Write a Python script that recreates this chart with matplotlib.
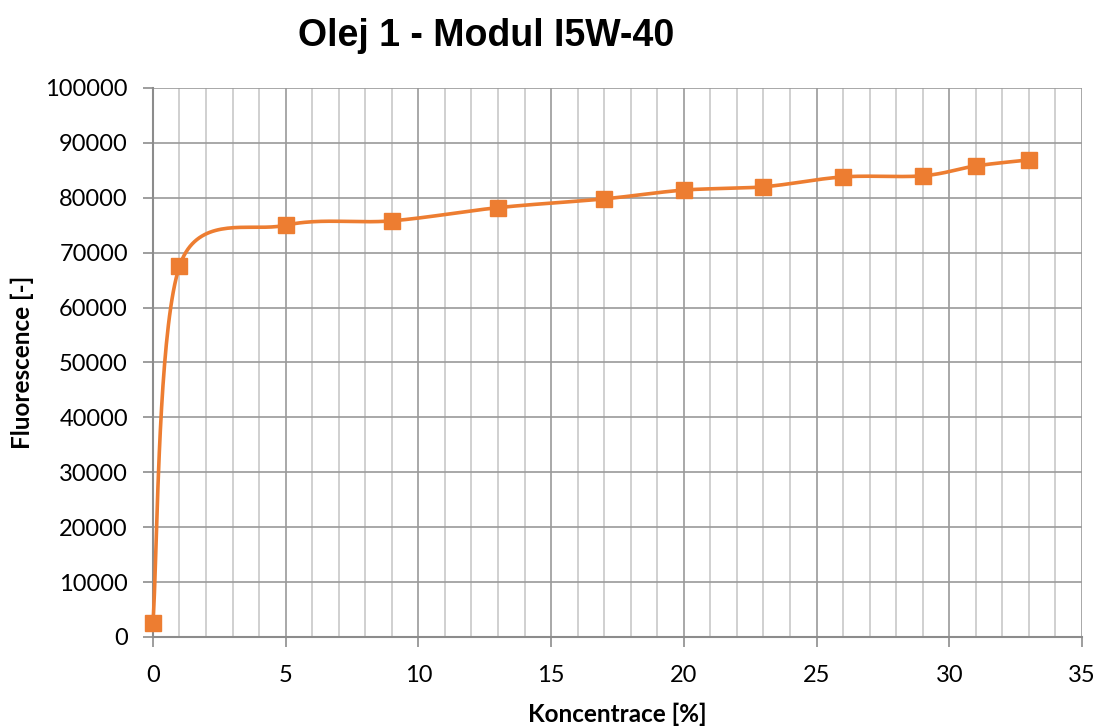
import numpy as np
import matplotlib
matplotlib.use("Agg")
import matplotlib.pyplot as plt
from matplotlib.ticker import MultipleLocator

# values
koncentrace = [0, 1, 5, 9, 13, 17, 20, 23, 26, 29, 31, 33]
fluorescence = [2500, 67500, 75000, 75800, 78200, 79800, 81400, 82000, 83800, 84000, 85800, 86900]

title = "Olej 1 - Modul I5W-40"
xlabel = "Koncentrace [%]"
ylabel = "Fluorescence [-]"
orange = "#ED7D31"


def excel_smooth(p, n=40):
    # Catmull-Rom bezier (arm = 1/6 of neighbour chord), arms capped at half the segment
    p = np.vstack([p[0], p, p[-1]])
    t = np.linspace(0, 1, n)[:, None]
    out = []
    for i in range(1, len(p) - 2):
        p0, p1, p2, p3 = p[i - 1], p[i], p[i + 1], p[i + 2]
        half = np.linalg.norm(p2 - p1) / 2
        a1 = (p2 - p0) / 6
        a2 = (p3 - p1) / 6
        if np.linalg.norm(a1) > half:
            a1 = a1 / np.linalg.norm(a1) * half
        if np.linalg.norm(a2) > half:
            a2 = a2 / np.linalg.norm(a2) * half
        c1 = p1 + a1
        c2 = p2 - a2
        seg = ((1 - t) ** 3) * p1 + 3 * ((1 - t) ** 2) * t * c1 + 3 * (1 - t) * t ** 2 * c2 + t ** 3 * p2
        out.append(seg)
    return np.vstack(out)


fig = plt.figure(figsize=(11, 7.27), dpi=100)
ax = fig.add_axes([0.139, 0.1238, 0.8446, 0.7552])

ax.set_xlim(0, 35)
ax.set_ylim(0, 100000)

# smooth in screen space, then back to data
pts = ax.transData.transform(np.column_stack([koncentrace, fluorescence]))
curve = ax.transData.inverted().transform(excel_smooth(pts))
ax.plot(curve[:, 0], curve[:, 1], color=orange, lw=2.6, zorder=3, clip_on=False)
ax.plot(koncentrace, fluorescence, ls="none", marker="s", ms=11, color=orange,
        zorder=4, clip_on=False)

ax.xaxis.set_major_locator(MultipleLocator(5))
ax.xaxis.set_minor_locator(MultipleLocator(1))
ax.yaxis.set_major_locator(MultipleLocator(10000))

ax.grid(which="major", axis="both", color="#9a9a9a", lw=1.2)
ax.grid(which="minor", axis="x", color="#c8c8c8", lw=1.2)
ax.set_axisbelow(True)

for s in ["top", "right"]:
    ax.spines[s].set_visible(False)
for s in ["left", "bottom"]:
    ax.spines[s].set_color("#8c8c8c")
    ax.spines[s].set_linewidth(1.5)

ax.tick_params(which="major", direction="out", length=7, width=1.2, color="#8c8c8c",
               labelsize=17)
ax.tick_params(axis="x", pad=13)
ax.tick_params(axis="y", pad=11)
ax.tick_params(which="minor", length=0)
for lab in ax.get_xticklabels() + ax.get_yticklabels():
    lab.set_fontfamily("Lato")

ax.set_xlabel(xlabel, fontsize=17.5, fontweight="bold", family="Lato")
ax.set_ylabel(ylabel, fontsize=17.5, fontweight="bold", family="Lato")
ax.xaxis.set_label_coords(0.5, -0.140)
ax.xaxis.label.set_va("center")
ax.yaxis.set_label_coords(-0.141, 0.5)
ax.yaxis.label.set_va("center")

fig.text(0.442, 0.95, title, ha="center", va="center", fontsize=27,
         fontweight="bold", family="Liberation Sans")

fig.savefig("out.png", dpi=100)
